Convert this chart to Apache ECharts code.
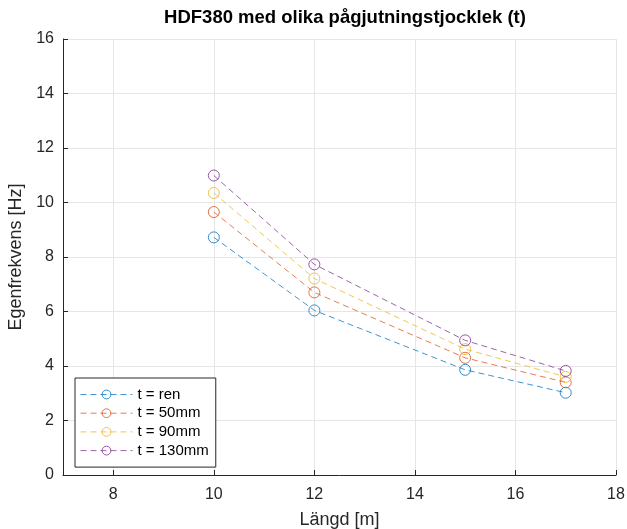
<!DOCTYPE html>
<html>
<head>
<meta charset="utf-8">
<script src="https://cdn.jsdelivr.net/npm/echarts@6/dist/echarts.min.js"></script>
<style>
  html, body { margin: 0; padding: 0; background: #fff; }
  #chart { width: 627px; height: 529px; }
</style>
</head>
<body>
<div id="chart"></div>
<script>
// data
const lengths = [10, 12, 15, 17]
const ren = [8.72, 6.04, 3.86, 3.02]
const t50 = [9.65, 6.70, 4.30, 3.40]
const t90 = [10.35, 7.21, 4.62, 3.60]
const t130 = [10.99, 7.73, 4.94, 3.82]
const xTicks = [8, 10, 12, 14, 16, 18]

const names = ['t = ren', 't = 50mm', 't = 90mm', 't = 130mm']
const colors = ['#0072BD', '#D95319', '#EDB120', '#7E2F8E']
const values = [ren, t50, t90, t130]

const font = 'Liberation Sans, Arial, sans-serif'
const dark = '#262626'

let chart = echarts.init(document.getElementById('chart'))
let option = {
  animation: false,
  title: {
    text: 'HDF380 med olika pågjutningstjocklek (t)',
    left: 340,
    textAlign: 'center',
    top: 3,
    textStyle: { fontFamily: font, fontSize: 18.5, fontWeight: 'bold', color: '#000' }
  },
  grid: { left: 63, right: 11, top: 39, bottom: 54, outerBoundsMode: 'none' },
  legend: {
    orient: 'vertical',
    left: 75,
    top: 378,
    data: names,
    itemWidth: 52,
    itemHeight: 11,
    itemGap: 3.7,
    padding: [9, 7, 9, 5],
    backgroundColor: '#fff',
    borderColor: dark,
    borderWidth: 1,
    lineStyle: { width: 1 },
    itemStyle: { borderWidth: 1 },
    textStyle: { fontFamily: font, fontSize: 15, color: '#000' }
  },
  xAxis: {
    type: 'value',
    min: 7,
    max: 18,
    name: 'Längd [m]',
    nameLocation: 'middle',
    nameGap: 36,
    nameTextStyle: { fontFamily: font, fontSize: 18, color: dark },
    axisLine: { lineStyle: { color: dark, width: 1 } },
    axisTick: { inside: true, length: 5, customValues: xTicks, lineStyle: { color: dark } },
    axisLabel: { customValues: xTicks, margin: 12, fontFamily: font, fontSize: 16, color: dark },
    splitLine: { show: true, lineStyle: { color: '#e6e6e6', width: 1 } }
  },
  yAxis: {
    type: 'value',
    min: 0,
    max: 16,
    interval: 2,
    name: 'Egenfrekvens [Hz]',
    nameLocation: 'middle',
    nameGap: 32,
    nameTextStyle: { fontFamily: font, fontSize: 18, color: dark },
    axisLine: { show: true, lineStyle: { color: dark, width: 1 } },
    axisTick: { show: true, inside: true, length: 5, lineStyle: { color: dark } },
    axisLabel: { margin: 9, fontFamily: font, fontSize: 16, color: dark },
    splitLine: { show: true, lineStyle: { color: '#e6e6e6', width: 1 } }
  },
  series: names.map(function (n, i) {
    return {
      name: n,
      type: 'line',
      data: lengths.map(function (x, j) { return [x, values[i][j]] }),
      symbol: 'circle',
      symbolSize: 11,
      color: colors[i],
      lineStyle: { color: colors[i], width: 1, type: [6, 4], opacity: 0.75 },
      itemStyle: { color: 'rgba(255,255,255,0)', borderColor: colors[i], borderWidth: 1, opacity: 0.8 }
    }
  })
}
chart.setOption(option)
</script>
</body>
</html>
